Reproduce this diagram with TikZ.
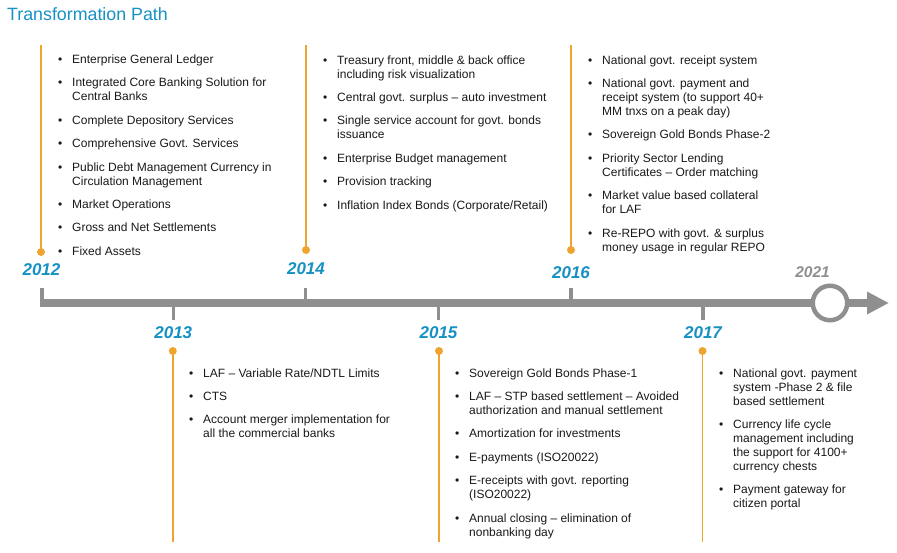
\documentclass[tikz,border=0pt]{standalone}
\usepackage{fontspec}
\setmainfont{Liberation Sans}
\definecolor{tlblue}{RGB}{22,145,196}
\definecolor{tlorange}{RGB}{238,164,46}
\definecolor{tlgray}{RGB}{143,143,143}
\definecolor{txt}{RGB}{25,25,25}
\newcommand{\bfirst}[1]{\noindent\hangindent=14pt\hangafter=1\makebox[14pt][l]{\textbullet}#1\par}
\newcommand{\bnext}[1]{\vskip9.4pt\bfirst{#1}}
\newcommand{\col}[1]{\vtop{\hsize=300pt\parindent=0pt\parskip=0pt\fontsize{12}{14}\selectfont\raggedright #1}}
\begin{document}
\begin{tikzpicture}[x=1pt,y=-1pt,
  year/.style={font=\fontsize{17}{17}\selectfont\bfseries\itshape, text=tlblue, inner sep=0},
  items/.style={anchor=base west, inner sep=0, text=txt},
  dotnode/.style={circle, fill=tlorange, minimum size=8pt, inner sep=0},
  orangeline/.style={draw=tlorange, line width=1.8pt},
  tick/.style={draw=tlgray, line width=3.5pt},
  bar/.style={draw=tlgray, line width=7.4pt}]
\useasboundingbox (0,0) rectangle (897,552);
\node[anchor=base west, inner sep=0, text=tlblue, font=\fontsize{17.8}{18}\selectfont] (title) at (7,20.5) {Transformation Path};

% timeline bar
\coordinate (bs) at (40,303);
\coordinate (be) at (868,303);
\draw[bar] (bs) -- (be);
\fill[tlgray] (867,291.5) -- (888.5,303) -- (867,314.5) -- cycle;
\node[circle, draw=tlgray, line width=4.5pt, fill=white, minimum size=34.5pt, inner sep=0] (ring) at (830,303) {};

% ticks
\coordinate (k12a) at (41.75,288); \coordinate (k12b) at (41.75,303);
\coordinate (k13a) at (173.3,303); \coordinate (k13b) at (173.3,320);
\coordinate (k14a) at (305.5,288); \coordinate (k14b) at (305.5,303);
\coordinate (k15a) at (438.5,303); \coordinate (k15b) at (438.5,320);
\coordinate (k16a) at (571,288); \coordinate (k16b) at (571,303);
\coordinate (k17a) at (703,303); \coordinate (k17b) at (703,320);
\draw[tick] (k12a) -- (k12b);
\draw[tick] (k13a) -- (k13b);
\draw[tick] (k14a) -- (k14b);
\draw[tick] (k15a) -- (k15b);
\draw[tick] (k16a) -- (k16b);
\draw[tick] (k17a) -- (k17b);

% years
\node[year] (y12) at (41.5,269.5) {2012};
\node[year] (y14) at (306,268.5) {2014};
\node[year] (y16) at (571,273) {2016};
\node[year] (y13) at (173.3,333) {2013};
\node[year] (y15) at (438.5,333) {2015};
\node[year] (y17) at (703,333) {2017};
\node[font=\fontsize{15.5}{16}\selectfont\bfseries\itshape, text=tlgray, inner sep=0] (y21) at (812.5,272) {2021};

% orange lines
\coordinate (o12) at (41,45); \node[dotnode] (d12) at (41,252) {};
\coordinate (o14) at (306,45); \node[dotnode] (d14) at (306,250) {};
\coordinate (o16) at (571,45); \node[dotnode] (d16) at (571,250) {};
\node[dotnode] (d13) at (172.8,351) {}; \coordinate (o13) at (172.8,542);
\node[dotnode] (d15) at (439,351) {}; \coordinate (o15) at (439,542);
\node[dotnode] (d17) at (702.5,351) {}; \coordinate (o17) at (702.5,542);
\draw[orangeline] (o12) -- (d12.center);
\draw[orangeline] (o14) -- (d14.center);
\draw[orangeline] (o16) -- (d16.center);
\draw[orangeline] (d13.center) -- (o13);
\draw[orangeline] (d15.center) -- (o15);
\draw[orangeline] (d17.center) -- (o17);

% item columns
\node[items] (c12) at (58,63.5) {\col{%
\bfirst{Enterprise General Ledger}
\bnext{Integrated Core Banking Solution for\newline Central Banks}
\bnext{Complete Depository Services}
\bnext{Comprehensive Govt. Services}
\bnext{Public Debt Management Currency in\newline Circulation Management}
\bnext{Market Operations}
\bnext{Gross and Net Settlements}
\bnext{Fixed Assets}}};

\node[items] (c14) at (323,64) {\col{%
\bfirst{Treasury front, middle \& back office\newline including risk visualization}
\bnext{Central govt. surplus – auto investment}
\bnext{Single service account for govt. bonds\newline issuance}
\bnext{Enterprise Budget management}
\bnext{Provision tracking}
\bnext{Inflation Index Bonds (Corporate/Retail)}}};

\node[items] (c16) at (588,64) {\col{%
\bfirst{National govt. receipt system}
\bnext{National govt. payment and\newline receipt system (to support 40+\newline MM tnxs on a peak day)}
\bnext{Sovereign Gold Bonds Phase-2}
\bnext{Priority Sector Lending\newline Certificates – Order matching}
\bnext{Market value based collateral\newline for LAF}
\bnext{Re-REPO with govt. \& surplus\newline money usage in regular REPO}}};

\node[items] (c13) at (189,377) {\col{%
\bfirst{LAF – Variable Rate/NDTL Limits}
\bnext{CTS}
\bnext{Account merger implementation for\newline all the commercial banks}}};

\node[items] (c15) at (455,377) {\col{%
\bfirst{Sovereign Gold Bonds Phase-1}
\bnext{LAF – STP based settlement – Avoided\newline authorization and manual settlement}
\bnext{Amortization for investments}
\bnext{E-payments (ISO20022)}
\bnext{E-receipts with govt. reporting\newline (ISO20022)}
\bnext{Annual closing – elimination of\newline nonbanking day}}};

\node[items] (c17) at (719,377) {\col{%
\bfirst{National govt. payment\newline system -Phase 2 \& file\newline based settlement}
\bnext{Currency life cycle\newline management including\newline the support for 4100+\newline currency chests}
\bnext{Payment gateway for\newline citizen portal}}};
\end{tikzpicture}
\end{document}
